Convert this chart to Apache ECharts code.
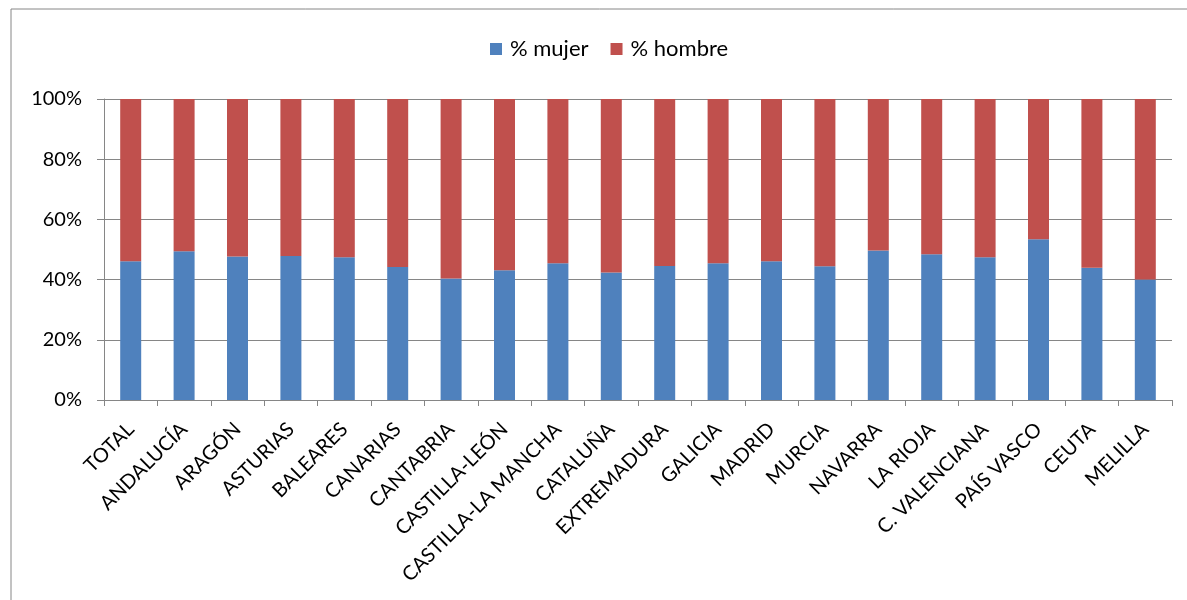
<!DOCTYPE html>
<html>
<head>
<meta charset="utf-8">
<script src="https://cdn.jsdelivr.net/npm/echarts@6/dist/echarts.min.js"></script>
<style>html,body{margin:0;padding:0;background:#fff}#c{width:1187px;height:600px}</style>
</head>
<body>
<div id="c"></div>
<script>
const categories = ['TOTAL','ANDALUCÍA','ARAGÓN','ASTURIAS','BALEARES','CANARIAS','CANTABRIA','CASTILLA-LEÓN','CASTILLA-LA MANCHA','CATALUÑA','EXTREMADURA','GALICIA','MADRID','MURCIA','NAVARRA','LA RIOJA','C. VALENCIANA','PAÍS VASCO','CEUTA','MELILLA'];
const mujer = [46.1,49.4,47.7,47.8,47.4,44.2,40.4,43.1,45.4,42.4,44.5,45.4,46.1,44.4,49.7,48.4,47.4,53.4,43.9,40.0];
const hombre = mujer.map(v => +(100 - v).toFixed(1));
const yTicks = [0,20,40,60,80,100];
const seriesNames = ['% mujer','% hombre'];

const font = 'Lato';
const chart = echarts.init(document.getElementById('c'), null, {renderer:'canvas'});
chart.setOption({
  animation:false,
  graphic:[{type:'rect',shape:{x:11,y:9,width:1200,height:620},style:{fill:'none',stroke:'#868686',lineWidth:1}}],
  legend:{
    top:33, left:485, itemWidth:12, itemHeight:12, itemGap:22,
    icon:'rect',
    textStyle:{fontFamily:font,fontSize:22,color:'#000',padding:[0,0,0,3]},
    data:seriesNames
  },
  grid:{left:104,right:15,top:99,bottom:200,containLabel:false},
  xAxis:{
    type:'category', data:categories,
    axisLine:{lineStyle:{color:'#868686',width:1}},
    axisTick:{show:true,length:6,lineStyle:{color:'#868686'}},
    axisLabel:{rotate:45,interval:0,fontFamily:font,fontSize:20,color:'#000',margin:26}
  },
  yAxis:{
    type:'value', min:0, max:100, interval:20,
    axisLine:{show:true,lineStyle:{color:'#868686',width:1}},
    axisTick:{show:true,length:7,lineStyle:{color:'#868686'}},
    splitLine:{show:true,lineStyle:{color:'#868686',width:1}},
    axisLabel:{formatter:v=>yTicks.includes(v)?v+'%':'',fontFamily:font,fontSize:20,color:'#000',margin:22}
  },
  series:[
    {name:seriesNames[0],type:'bar',stack:'a',data:mujer,barWidth:21,itemStyle:{color:'#4F81BD'}},
    {name:seriesNames[1],type:'bar',stack:'a',data:hombre,barWidth:21,itemStyle:{color:'#C0504D'}}
  ]
});
</script>
</body>
</html>
